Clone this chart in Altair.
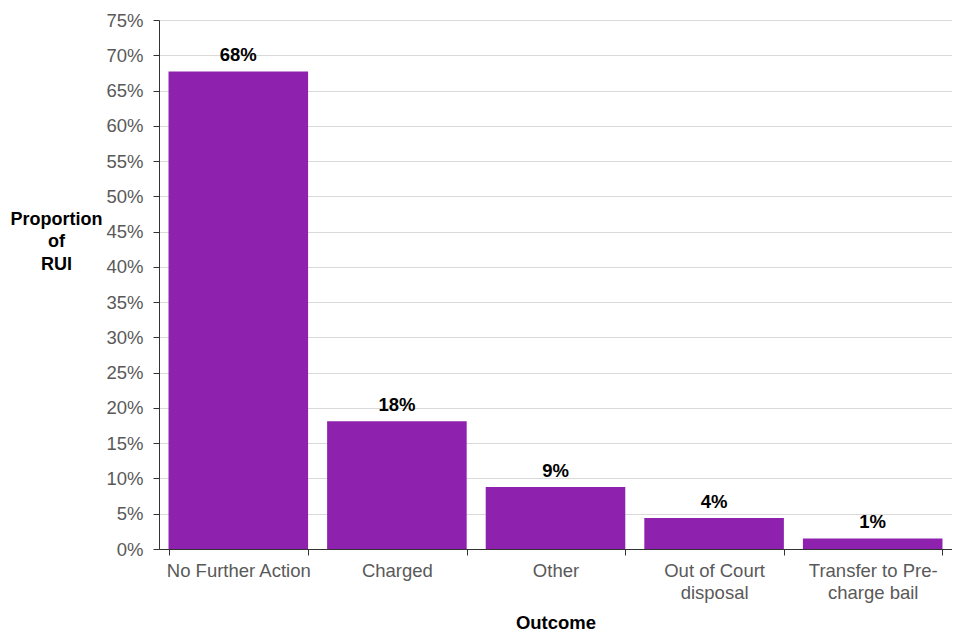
import altair as alt
import pandas as pd

categories = ["No Further Action", "Charged", "Other", "Out of Court|disposal", "Transfer to Pre-|charge bail"]
values = [67.7, 18.1, 8.8, 4.4, 1.5]
labels = ["68%", "18%", "9%", "4%", "1%"]
y_ticks = [0, 5, 10, 15, 20, 25, 30, 35, 40, 45, 50, 55, 60, 65, 70, 75]

df = pd.DataFrame({"cat": categories, "val": values, "lab": labels})

FONT = "Liberation Sans"
FS = 18.5

x = alt.X("cat:N", sort=categories, title="Outcome",
          scale=alt.Scale(paddingInner=0.12, paddingOuter=0.06),
          axis=alt.Axis(labelAngle=0, labelExpr="split(datum.label, '|')",
                        tickBand="extent", tickSize=6, labelPadding=6,
                        labelFontSize=FS, labelColor="#595959", labelFont=FONT,
                        labelLineHeight=22, labelBaseline="top", labelOverlap=False,
                        labelLimit=0,
                        titleFontSize=FS, titleFontWeight="bold", titleColor="#000000",
                        titleFont=FONT, titlePadding=12,
                        domainColor="#333333", tickColor="#333333", grid=False))

y = alt.Y("val:Q", title=["Proportion", "of", "RUI"],
          scale=alt.Scale(domain=[0, 75], nice=False),
          axis=alt.Axis(values=y_ticks, labelExpr="datum.value + '%'",
                        tickSize=6, labelPadding=10, labelFontSize=FS, labelColor="#595959",
                        labelFont=FONT, labelOverlap=False, labelFlush=False,
                        domainColor="#333333", tickColor="#333333",
                        gridColor="#d9d9d9", titleAngle=0, titleAlign="center",
                        titleBaseline="top", titleX=-103, titleY=190,
                        titleFontSize=18, titleFontWeight="bold", titleColor="#000000",
                        titleFont=FONT, titleLineHeight=22.5))

bars = alt.Chart(df).mark_bar(color="#8E22AF").encode(x=x, y=y)
text = alt.Chart(df).mark_text(font=FONT, fontSize=FS, fontWeight="bold", color="#000000",
                               baseline="bottom", dy=-6).encode(x=x, y=y, text="lab:N")

chart = (bars + text).properties(
    width=793, height=529,
    autosize=alt.AutoSizeParams(type="none"),
    padding={"left": 151, "top": 12, "right": 0, "bottom": 90},
).configure_view(stroke=None).configure(background="white")

chart.save("out.html", embed_options={"renderer": "svg", "actions": False})
